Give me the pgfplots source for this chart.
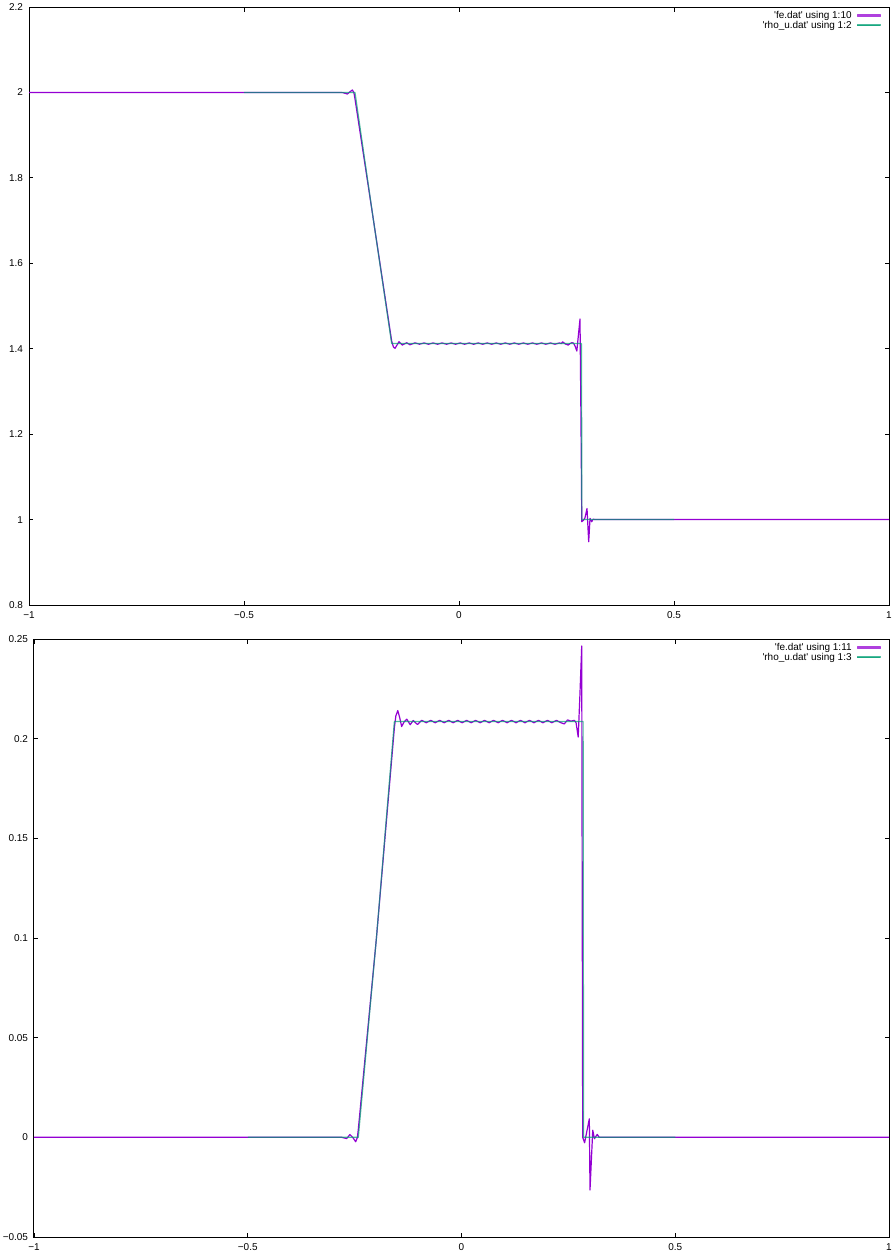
\documentclass[border=0pt]{standalone}
\usepackage{fontspec}
\setmainfont{Liberation Sans}
\usepackage{pgfplots}
\pgfplotsset{compat=1.18}
\definecolor{gpviolet}{HTML}{9400D3}
\definecolor{gpgreen}{HTML}{009E73}
\pgfplotsset{
  gpstyle/.style={
    scale only axis,
    xmin=-1,xmax=1,
    axis line style={line width=1bp},
    every tick/.style={black,line width=0.8bp},
    tick align=inside,
    major tick length=4.5bp,
    tick label style={font=\fontsize{10}{12}\selectfont},
    xtick={-1,-0.5,0,0.5,1},
    xticklabels={−1,−0.5,0,0.5,1},
    xticklabel style={yshift=-3bp},
    yticklabel style={xshift=-2.5bp},
    legend cell align=right,
    legend plot pos=right,
    legend style={draw=none,fill=none,at={(rel axis cs:1,1)},anchor=north east,
      xshift=-8bp,yshift=-3bp,font=\fontsize{10}{11}\selectfont,
      inner sep=0pt,row sep=-1bp,column sep=4bp,nodes={inner sep=1bp}},
  }
}
\begin{document}
\begin{tikzpicture}
\useasboundingbox (0,0) rectangle (893bp,-1258bp);
% ---------------- top panel ----------------
\begin{axis}[gpstyle,
  at={(29bp,-605bp)},anchor=south west,
  width=860bp,height=598bp,
  ymin=0.8,ymax=2.2,
  ytick={0.8,1,1.2,1.4,1.6,1.8,2,2.2},
  yticklabels={0.8,1,1.2,1.4,1.6,1.8,2,2.2}]
\addplot[gpviolet,line width=1.2bp,line join=round,
  legend image code/.code={\fill[gpviolet!75] (0bp,-0.55bp) rectangle (23bp,0.55bp);}] coordinates {
(-1,2) (-0.5,2) (-0.28,2) (-0.27,1.9995) (-0.2597,1.9963) (-0.2535,2.0015) (-0.248,2.0056) (-0.2445,2.000) (-0.2419,1.985)
(-0.2,1.708) (-0.1566,1.418) (-0.1525,1.404) (-0.1488,1.4009) (-0.1445,1.408) (-0.1395,1.4164) (-0.1355,1.4125)
(-0.1318,1.4086) (-0.1217,1.414) (-0.114,1.4092) (-0.1023,1.4138)
(-0.092,1.4105) (-0.0813,1.4135) (-0.071,1.4105) (-0.0603,1.4135) (-0.050,1.4105) (-0.0393,1.4135)
(-0.029,1.4105) (-0.0183,1.4135) (-0.008,1.4105) (0.0027,1.4135) (0.013,1.4105) (0.0237,1.4135)
(0.034,1.4105) (0.0447,1.4135) (0.055,1.4105) (0.0657,1.4135) (0.076,1.4105) (0.0867,1.4135)
(0.097,1.4105) (0.1077,1.4135) (0.118,1.4105) (0.1287,1.4135) (0.139,1.4105) (0.1497,1.4135)
(0.160,1.4105) (0.1707,1.4135) (0.181,1.4105) (0.1917,1.4135) (0.202,1.4105) (0.2127,1.4135)
(0.223,1.4105) (0.2337,1.4135)
(0.2380,1.412) (0.241,1.416) (0.2475,1.411) (0.254,1.4086) (0.258,1.412) (0.262,1.414) (0.266,1.4135)
(0.27,1.406) (0.274,1.3946) (0.2775,1.43) (0.2814,1.4695) (0.2835,1.25) (0.2855,0.995) (0.289,0.998)
(0.293,1.004) (0.2977,1.026) (0.3016,0.948) (0.3047,1.0028) (0.3086,0.995) (0.312,1.001) (0.316,1.0)
(0.5,1) (1,1)
};
\addlegendentry{\textquotesingle fe.dat\textquotesingle{} using 1:10}
\addplot[gpgreen,line width=1.2bp,line join=round,opacity=0.7,
  legend image code/.code={\fill[gpgreen] (0bp,-0.55bp) rectangle (23bp,0.55bp);}] coordinates {
(-0.5,2) (-0.2419,2) (-0.2,1.708) (-0.1566,1.412) (0.2848,1.412) (0.2858,1.0) (0.5,1)
};
\addlegendentry{\textquotesingle rho\_u.dat\textquotesingle{} using 1:2}
\end{axis}
% ---------------- bottom panel ----------------
\begin{axis}[gpstyle,
  at={(34bp,-1237bp)},anchor=south west,
  width=855bp,height=598bp,
  ymin=-0.05,ymax=0.25,
  ytick={-0.05,0,0.05,0.1,0.15,0.2,0.25},
  yticklabels={−0.05,0,0.05,0.1,0.15,0.2,0.25}]
\addplot[gpviolet,line width=1.2bp,line join=round,
  legend image code/.code={\fill[gpviolet!75] (0bp,-0.55bp) rectangle (23bp,0.55bp);}] coordinates {
(-1,0) (-0.5,0) (-0.28,0) (-0.2686,-0.0006) (-0.261,0.0014) (-0.2545,0.0) (-0.2475,-0.0022) (-0.2435,0.0) (-0.2414,0.004)
(-0.199,0.1) (-0.157,0.2055) (-0.1535,0.2115) (-0.149,0.2141) (-0.1445,0.2105) (-0.140,0.2061) (-0.134,0.2085)
(-0.128,0.2098) (-0.120,0.207) (-0.113,0.2091) (-0.103,0.2071) (-0.093,0.2092)
(-0.0825,0.2080) (-0.072,0.2092) (-0.0615,0.2080) (-0.051,0.2092) (-0.0405,0.2080) (-0.030,0.2092)
(-0.0195,0.2080) (-0.009,0.2092) (0.0015,0.2080) (0.012,0.2092) (0.0225,0.2080) (0.033,0.2092)
(0.0435,0.2080) (0.054,0.2092) (0.0645,0.2080) (0.075,0.2092) (0.0855,0.2080) (0.096,0.2092)
(0.1065,0.2080) (0.117,0.2092) (0.1275,0.2080) (0.138,0.2092) (0.1485,0.2080) (0.159,0.2092)
(0.1695,0.2080) (0.180,0.2092) (0.1905,0.2080) (0.201,0.2092) (0.2115,0.2080) (0.222,0.2092)
(0.2325,0.2080) (0.2405,0.2074) (0.248,0.2094) (0.256,0.2088) (0.264,0.2092) (0.268,0.2080)
(0.273,0.2008) (0.277,0.222) (0.2812,0.2465) (0.2835,0.0) (0.288,-0.0027) (0.299,0.0093) (0.3006,-0.0264)
(0.307,0.0036) (0.311,-0.0007) (0.3175,0.0015) (0.322,0) (0.5,0) (1,0)
};
\addlegendentry{\textquotesingle fe.dat\textquotesingle{} using 1:11}
\addplot[gpgreen,line width=1.2bp,line join=round,opacity=0.7,
  legend image code/.code={\fill[gpgreen] (0bp,-0.55bp) rectangle (23bp,0.55bp);}] coordinates {
(-0.5,0) (-0.2414,0) (-0.199,0.1) (-0.157,0.2086) (0.2845,0.2086) (0.2855,0) (0.5,0)
};
\addlegendentry{\textquotesingle rho\_u.dat\textquotesingle{} using 1:3}
\end{axis}
\end{tikzpicture}
\end{document}
